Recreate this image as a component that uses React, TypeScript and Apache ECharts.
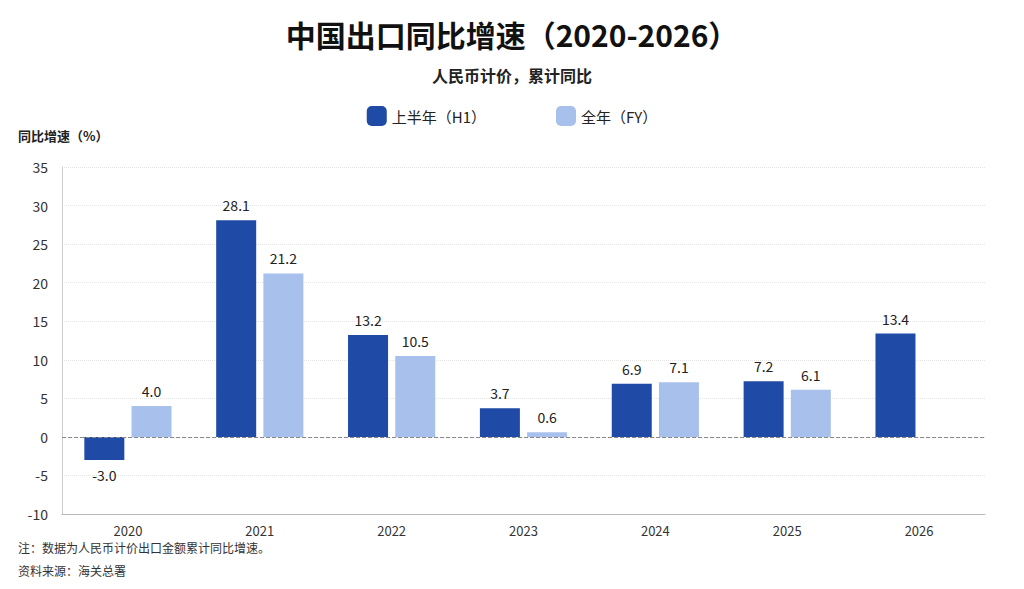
import { useEffect, useRef } from "react";
import * as echarts from "echarts";

const years = ["2020", "2021", "2022", "2023", "2024", "2025", "2026"];
const h1Values = [-3.0, 28.1, 13.2, 3.7, 6.9, 7.2, 13.4];
const fyValues: (number | null)[] = [4.0, 21.2, 10.5, 0.6, 7.1, 6.1, null];
const FONT = "'Noto Sans CJK SC', 'Noto Sans', sans-serif";

const toData = (vals: (number | null)[]) =>
  vals.map((v) =>
    v === null
      ? null
      : { value: v, label: { position: v < 0 ? "bottom" : "top" } }
  );

const App: React.FC = () => {
  const chartRef = useRef<HTMLDivElement>(null);

  useEffect(() => {
    const chart = echarts.init(chartRef.current, null, { renderer: "svg" });
    const label = {
      show: true,
      color: "#222",
      fontSize: 14,
      fontFamily: FONT,
      distance: 8,
      formatter: (p: any) => Number(p.value).toFixed(1),
    };
    chart.setOption({
      animation: false,
      backgroundColor: "#fff",
      textStyle: { fontFamily: FONT },
      title: [
        {
          text: "中国出口同比增速（2020-2026）",
          left: "center",
          top: 14,
          textStyle: { fontSize: 30, fontWeight: "bold", color: "#111", fontFamily: FONT },
        },
        {
          text: "人民币计价，累计同比",
          left: "center",
          top: 62,
          textStyle: { fontSize: 16, fontWeight: "bold", color: "#222", fontFamily: FONT },
        },
      ],
      legend: {
        top: 101,
        left: "center",
        itemWidth: 20,
        itemHeight: 20,
        itemGap: 70,
        textStyle: { fontSize: 15, color: "#222", fontFamily: FONT },
        data: ["上半年（H1）", "全年（FY）"],
      },
      graphic: [
        {
          type: "text",
          left: 18,
          top: 129,
          style: { text: "同比增速（%）", fontSize: 13, fontWeight: "bold", fill: "#222", fontFamily: FONT },
        },
        {
          type: "text",
          left: 18,
          top: 541,
          style: { text: "注：数据为人民币计价出口金额累计同比增速。", fontSize: 12, fill: "#333", fontFamily: FONT },
        },
        {
          type: "text",
          left: 18,
          top: 564,
          style: { text: "资料来源：海关总署", fontSize: 12, fill: "#333", fontFamily: FONT },
        },
      ],
      grid: { left: 62, right: 39, top: 167, bottom: 75 },
      xAxis: {
        type: "category",
        data: years,
        position: "bottom",
        axisLine: { onZero: false, lineStyle: { color: "#bbb" } },
        axisTick: { show: false },
        axisLabel: { color: "#333", fontSize: 13, margin: 10 },
      },
      yAxis: {
        type: "value",
        min: -10,
        max: 35,
        interval: 5,
        axisLine: { show: true, lineStyle: { color: "#ccc" } },
        axisLabel: { color: "#333", fontSize: 14, margin: 14 },
        splitLine: { lineStyle: { color: "#e4e4e4", type: "dotted" } },
      },
      series: [
        {
          name: "上半年（H1）",
          type: "bar",
          data: toData(h1Values),
          barWidth: 40,
          barGap: "18%",
          itemStyle: { color: "#1f4aa6" },
          label,
          markLine: {
            silent: true,
            symbol: "none",
            label: { show: false },
            lineStyle: { color: "#888", type: "dashed", width: 1 },
            data: [{ yAxis: 0 }],
          },
        },
        {
          name: "全年（FY）",
          type: "bar",
          data: toData(fyValues),
          barWidth: 40,
          itemStyle: { color: "#a8c0ec" },
          label,
        },
      ],
    });
    return () => chart.dispose();
  }, []);

  return (
    <div
      ref={chartRef}
      style={{ position: "absolute", left: 0, top: 0, width: 1024, height: 589 }}
    />
  );
};

export default App;
